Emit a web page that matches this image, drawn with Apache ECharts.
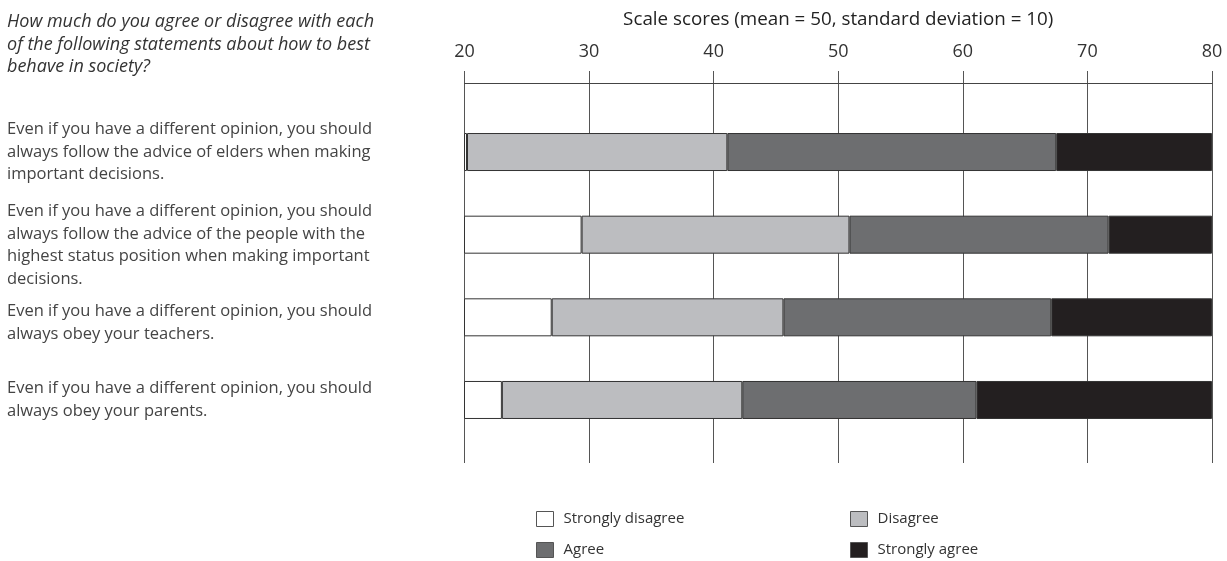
<!DOCTYPE html>
<html><head><meta charset="utf-8">
<script src="https://cdn.jsdelivr.net/npm/echarts@6/dist/echarts.min.js"></script>
<style>html,body{margin:0;padding:0;background:#fff}#c{width:1227px;height:561px}</style>
</head><body><div id="c"></div>
<script>
// Statements (categories), top to bottom
const statements = [
  'Even if you have a different opinion, you should\nalways follow the advice of elders when making\nimportant decisions.',
  'Even if you have a different opinion, you should\nalways follow the advice of the people with the\nhighest status position when making important\ndecisions.',
  'Even if you have a different opinion, you should\nalways obey your teachers.',
  'Even if you have a different opinion, you should\nalways obey your parents.'
];
const question = 'How much do you agree or disagree with each\nof the following statements about how to best\nbehave in society?';
const axisTitle = 'Scale scores (mean = 50, standard deviation = 10)';
const seriesNames = ['Strongly disagree', 'Disagree', 'Agree', 'Strongly agree'];
// Upper bound (scale score) of each response category, per statement
const stronglyDisagreeEnd = [20.2, 29.4, 27.0, 23.0];
const disagreeEnd = [41.1, 50.9, 45.6, 42.3];
const agreeEnd = [67.5, 71.7, 67.1, 61.1];
const stronglyAgreeEnd = [80, 80, 80, 80];
const scaleMin = 20, scaleMax = 80, scaleStep = 10;

const colors = ['#ffffff', '#bcbdc0', '#6d6e70', '#231f20'];
const ends = [stronglyDisagreeEnd, disagreeEnd, agreeEnd, stronglyAgreeEnd];
const segs = ends.map((arr, k) => arr.map((v, i) => +(v - (k === 0 ? 0 : ends[k - 1][i])).toFixed(2)));

const font = '"Open Sans", "Noto Sans", sans-serif';
// extra top space (px) pushing a label block down relative to its bar
const labelShift = [0, 21, 11, 0];
const labelStyle = {align: 'left', fontSize: 16.5, lineHeight: 22.5, color: '#444', fontFamily: font};
const rich = {};
labelShift.forEach((h, i) => { if (h) rich['s' + i] = {fontSize: 1, lineHeight: h, height: h}; });

const chart = echarts.init(document.getElementById('c'), null, {renderer: 'canvas'});
chart.setOption({
  animation: false,
  textStyle: {fontFamily: font},
  title: [{
    text: question, left: 7, top: 11, padding: 0,
    textStyle: {fontStyle: 'italic', fontWeight: 'normal', fontSize: 18, lineHeight: 22.5, color: '#333', fontFamily: font}
  }],
  grid: [
    {left: 464.5, right: 15, top: 83, bottom: 98, containLabel: false, outerBoundsMode: 'none'},
    {left: 464.5, right: 15, top: 110.7, bottom: 119.7, containLabel: false, outerBoundsMode: 'none'}
  ],
  xAxis: [
    {gridIndex: 0, type: 'value', position: 'top', min: scaleMin, max: scaleMax, interval: scaleStep,
     name: axisTitle, nameLocation: 'middle', nameGap: 54,
     nameTextStyle: {fontSize: 18.8, color: '#222', fontFamily: font},
     axisLine: {show: true, onZero: false, lineStyle: {color: '#444', width: 1}},
     axisTick: {show: true, inside: false, length: 12, lineStyle: {color: '#555'}},
     axisLabel: {fontSize: 18, color: '#333', margin: 22, fontFamily: font},
     splitLine: {show: true, lineStyle: {color: '#555', width: 1}}},
    {gridIndex: 1, type: 'value', min: scaleMin, max: scaleMax, show: false}
  ],
  yAxis: [
    {gridIndex: 0, type: 'value', show: false},
    {gridIndex: 1, type: 'category', inverse: true,
     data: statements,
     axisLine: {show: false}, axisTick: {show: false},
     axisLabel: Object.assign({margin: 457.5, interval: 0, hideOverlap: false, rich: rich,
       formatter: (v, i) => labelShift[i] ? '{s' + i + '| }\n' + v : v}, labelStyle)}
  ],
  legend: seriesNames.map((n, i) => ({
    data: [n], left: i % 2 === 0 ? 536 : 850, top: i < 2 ? 511 : 542, padding: 0,
    itemWidth: 17, itemHeight: 15, icon: 'rect',
    itemStyle: {borderColor: '#555', borderWidth: 1},
    textStyle: {fontSize: 15, color: '#333', fontFamily: font, padding: [0, 0, 0, 5]}
  })),
  series: seriesNames.map((n, k) => ({
    name: n, type: 'bar', stack: 'scale', xAxisIndex: 1, yAxisIndex: 1,
    barWidth: 38, clip: true, data: segs[k],
    itemStyle: {color: colors[k], borderColor: '#333', borderWidth: 1}
  }))
});
</script>
</body></html>
